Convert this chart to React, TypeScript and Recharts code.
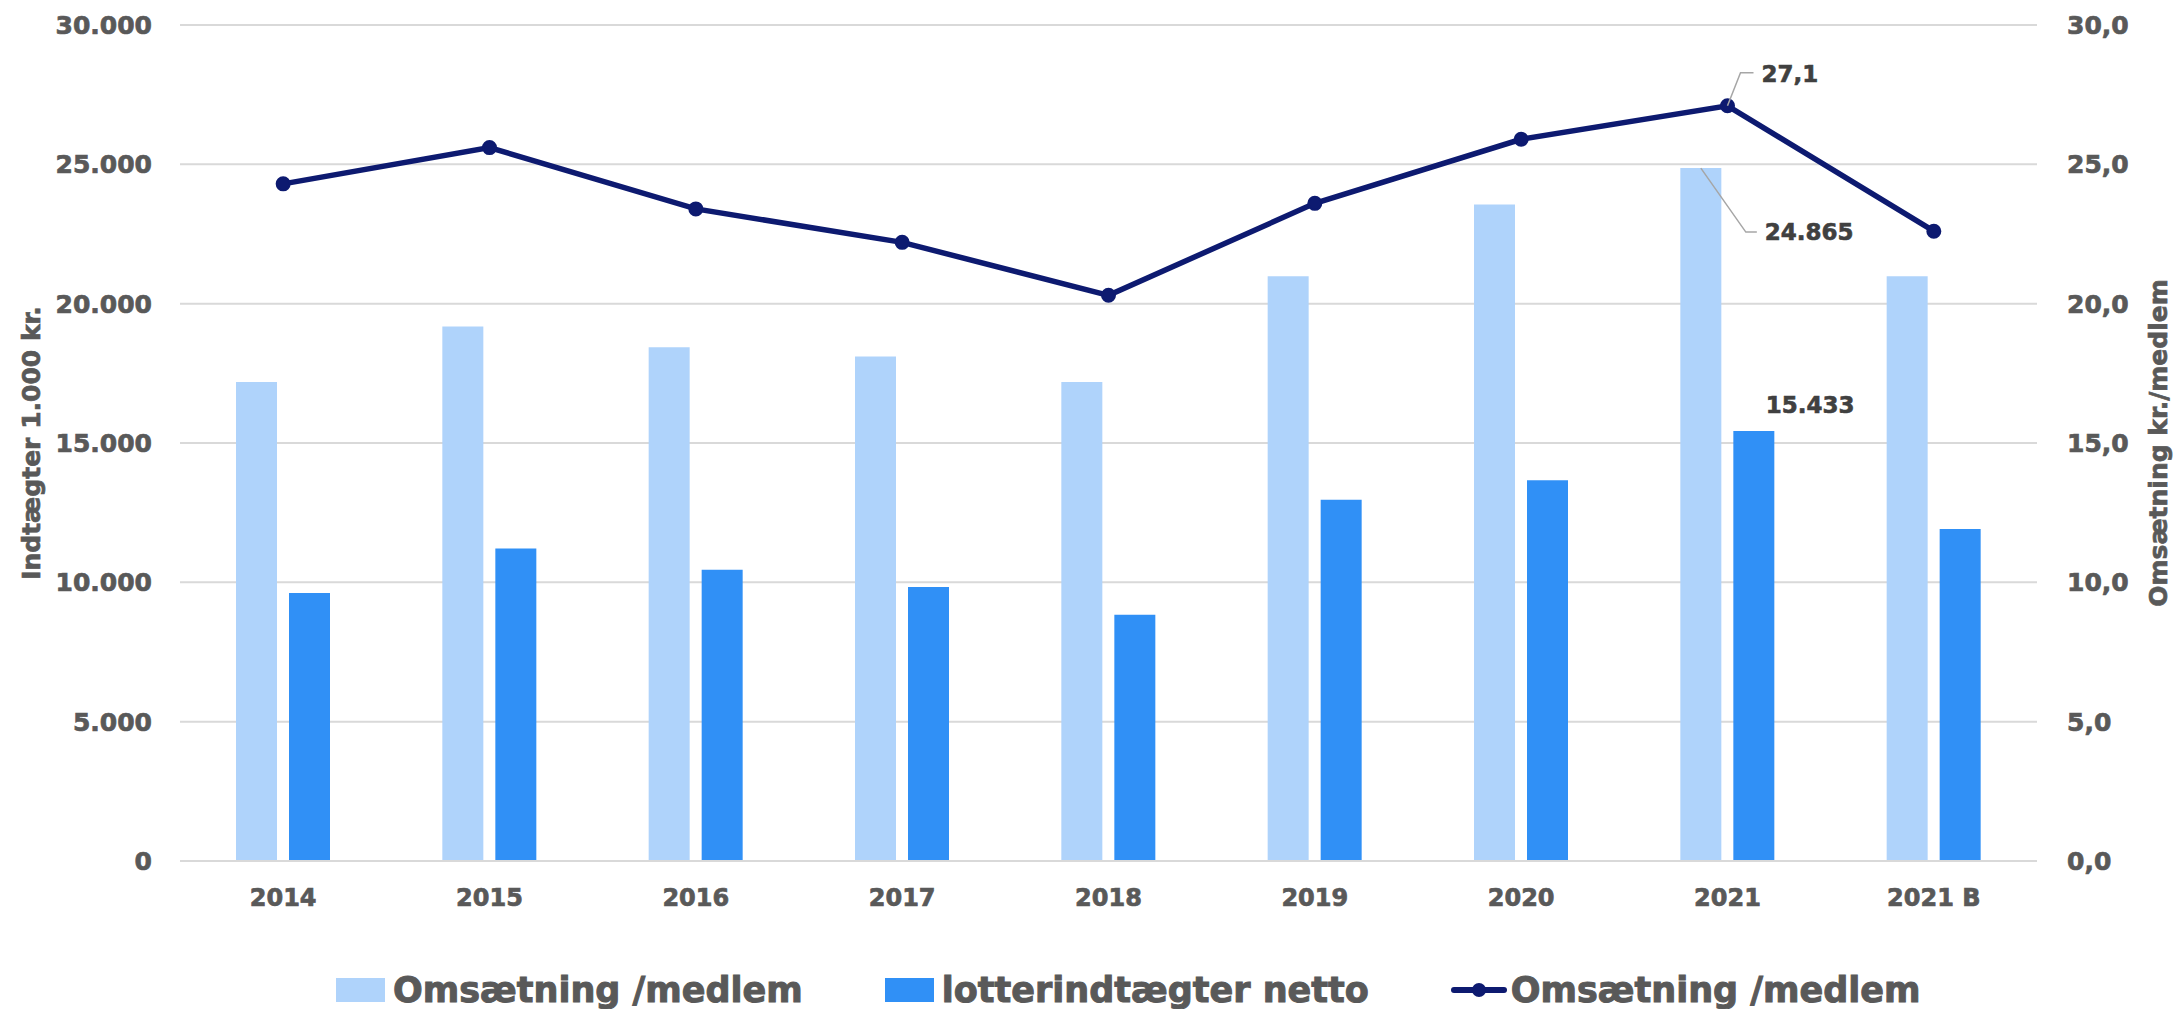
import React from 'react';
import {
  ComposedChart,
  Bar,
  Line,
  XAxis,
  YAxis,
  CartesianGrid,
  Legend,
  LabelList,
} from 'recharts';

// years on the x axis
const years = ['2014', '2015', '2016', '2017', '2018', '2019', '2020', '2021', '2021 B'];
// bars, left axis (1.000 kr.)
const omsaetning = [17190, 19180, 18440, 18100, 17190, 20980, 23560, 24865, 20980];
const lotteri = [9620, 11210, 10450, 9830, 8840, 12960, 13660, 15433, 11910];
// line, right axis (kr./medlem)
const perMedlem = [24.3, 25.6, 23.4, 22.2, 20.3, 23.6, 25.9, 27.1, 22.6];

const leftTicks = [0, 5000, 10000, 15000, 20000, 25000, 30000];
const rightTicks = [0, 5, 10, 15, 20, 25, 30];
const calloutYear = '2021';
const legendOrder = ['omsaetning', 'lotteri', 'perMedlem'];

const LIGHT = '#AFD3FB';
const DARK = '#3090F6';
const NAVY = '#0D1A70';
const GREY = '#595959';
const LABEL = '#404040';
const LEADER = '#A6A6A6';
const FONT = 'DejaVu Sans';

const data = years.map((year, i) => ({
  year,
  omsaetning: omsaetning[i],
  lotteri: lotteri[i],
  perMedlem: perMedlem[i],
}));

const callIdx = years.indexOf(calloutYear);

const fmtThousands = (v: number) => String(Math.round(v)).replace(/\B(?=(\d{3})+(?!\d))/g, '.');
const fmtDecimal = (v: number) => v.toFixed(1).replace('.', ',');

const tickStyle = {
  fill: GREY,
  stroke: GREY,
  strokeWidth: 0.7,
  fontSize: 25,
  fontWeight: 700,
  fontFamily: FONT,
};
const labelText = {
  fill: LABEL,
  stroke: LABEL,
  strokeWidth: 0.6,
  fontSize: 23,
  fontWeight: 700,
  fontFamily: FONT,
};

const LightCallout = (props: any) => {
  const { x, y, width, value, index } = props;
  if (index !== callIdx) return null;
  const cx = x + width / 2;
  return (
    <g>
      <polyline
        points={`${cx},${y} ${cx + 45},${y + 64} ${cx + 56},${y + 64}`}
        fill="none"
        stroke={LEADER}
        strokeWidth={1.5}
      />
      <text x={cx + 64} y={y + 64} dominantBaseline="central" {...labelText}>
        {fmtThousands(value)}
      </text>
    </g>
  );
};

const DarkCallout = (props: any) => {
  const { x, y, width, value, index } = props;
  if (index !== callIdx) return null;
  const cx = x + width / 2;
  return (
    <text x={cx + 12} y={y - 26} dominantBaseline="central" {...labelText}>
      {fmtThousands(value)}
    </text>
  );
};

const LineCallout = (props: any) => {
  const { x, y, value, index } = props;
  if (index !== callIdx) return null;
  return (
    <g>
      <polyline
        points={`${x},${y} ${x + 13},${y - 33} ${x + 26},${y - 33}`}
        fill="none"
        stroke={LEADER}
        strokeWidth={1.5}
      />
      <text x={x + 34} y={y - 32} dominantBaseline="central" {...labelText}>
        {fmtDecimal(value)}
      </text>
    </g>
  );
};

const renderLegend = (props: any) => {
  const payload = [...(props.payload || [])].sort(
    (a: any, b: any) => legendOrder.indexOf(a.dataKey) - legendOrder.indexOf(b.dataKey),
  );
  return (
    <div
      style={{
        display: 'flex',
        alignItems: 'center',
        paddingLeft: 336,
        height: 38,
        lineHeight: '38px',
        fontFamily: FONT,
        fontWeight: 700,
        fontSize: 35,
        color: GREY,
        WebkitTextStroke: `1px ${GREY}`,
        whiteSpace: 'nowrap',
      }}
    >
      {payload.map((entry: any, i: number) => (
        <div key={i} style={{ display: 'flex', alignItems: 'center', marginRight: 82 }}>
          {entry.type === 'line' ? (
            <svg width={56} height={24} style={{ marginRight: 4 }}>
              <line x1={3} y1={12} x2={53} y2={12} stroke={entry.color} strokeWidth={6} strokeLinecap="round" />
              <circle cx={28} cy={12} r={7} fill={entry.color} />
            </svg>
          ) : (
            <div style={{ width: 49, height: 24, background: entry.color, marginRight: 8 }} />
          )}
          <span>{entry.value}</span>
        </div>
      ))}
    </div>
  );
};

const AxisTitle = ({ viewBox, text, dx }: any) => {
  const x = viewBox.x + dx;
  const y = viewBox.y + viewBox.height / 2;
  return (
    <text
      x={x}
      y={y}
      transform={`rotate(-90, ${x}, ${y})`}
      textAnchor="middle"
      dominantBaseline="central"
      fill={GREY}
      stroke={GREY}
      strokeWidth={0.7}
      fontSize={25}
      fontWeight={700}
      fontFamily={FONT}
    >
      {text}
    </text>
  );
};

export default function App() {
  return (
    <div style={{ position: 'absolute', left: 0, top: 0, background: '#fff' }}>
      <ComposedChart
        width={2175}
        height={1009}
        data={data}
        margin={{ top: 25, right: 0, bottom: 0, left: 0 }}
        barSize={41}
        barGap={12}
      >
        <CartesianGrid yAxisId="left" vertical={false} stroke="#D9D9D9" strokeWidth={2} />
        <XAxis
          dataKey="year"
          height={110}
          axisLine={{ stroke: '#D9D9D9', strokeWidth: 2 }}
          tickLine={false}
          tickSize={0}
          tickMargin={28}
          tick={{ ...tickStyle, fontSize: 24 }}
          interval={0}
        />
        <YAxis
          yAxisId="left"
          width={180}
          domain={[0, 30000]}
          ticks={leftTicks}
          tickFormatter={fmtThousands}
          axisLine={false}
          tickLine={false}
          tickSize={0}
          tickMargin={28}
          tick={tickStyle}
          label={{ content: (p: any) => <AxisTitle {...p} text="Indtægter 1.000 kr." dx={31} /> }}
        />
        <YAxis
          yAxisId="right"
          orientation="right"
          width={138}
          domain={[0, 30]}
          ticks={rightTicks}
          tickFormatter={fmtDecimal}
          axisLine={false}
          tickLine={false}
          tickSize={0}
          tickMargin={30}
          tick={tickStyle}
          label={{ content: (p: any) => <AxisTitle {...p} text="Omsætning kr./medlem" dx={121} /> }}
        />
        <Legend verticalAlign="bottom" content={renderLegend} />
        <Bar yAxisId="left" dataKey="omsaetning" name="Omsætning /medlem" fill={LIGHT} isAnimationActive={false}>
          <LabelList dataKey="omsaetning" content={LightCallout} />
        </Bar>
        <Bar yAxisId="left" dataKey="lotteri" name="lotterindtægter netto" fill={DARK} isAnimationActive={false}>
          <LabelList dataKey="lotteri" content={DarkCallout} />
        </Bar>
        <Line
          yAxisId="right"
          type="linear"
          dataKey="perMedlem"
          name="Omsætning /medlem"
          stroke={NAVY}
          strokeWidth={5.5}
          dot={{ r: 6.5, fill: NAVY, stroke: NAVY, strokeWidth: 2 }}
          activeDot={false}
          isAnimationActive={false}
        >
          <LabelList dataKey="perMedlem" content={LineCallout} />
        </Line>
      </ComposedChart>
    </div>
  );
}
